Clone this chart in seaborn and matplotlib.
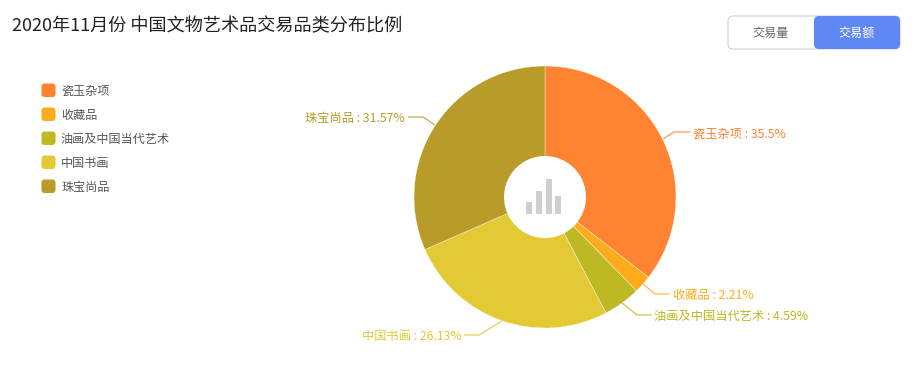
import matplotlib
matplotlib.use("Agg")
import matplotlib.pyplot as plt
from matplotlib.patches import Circle, FancyBboxPatch, Rectangle
import seaborn as sns

sns.set_theme(style="white")
plt.rcParams['font.family'] = ['Noto Sans CJK SC', 'DejaVu Sans']

# data
categories = ['瓷玉杂项', '收藏品', '油画及中国当代艺术', '中国书画', '珠宝尚品']
shares = [35.5, 2.21, 4.59, 26.13, 31.57]
share_labels = ['35.5%', '2.21%', '4.59%', '26.13%', '31.57%']
colors = ['#FF8330', '#FFAC1C', '#BDB823', '#E3C934', '#B99B2A']
toggle_labels = ['交易量', '交易额']
title = '2020年11月份 中国文物艺术品交易品类分布比例'

W, H = 921, 365
CX, CY, R, R_IN = 545, 197, 131, 41

fig = plt.figure(figsize=(W / 100, H / 100), dpi=100, facecolor='white')

# ------- pie -------
ax = fig.add_axes([(CX - R) / W, 1 - (CY + R) / H, 2 * R / W, 2 * R / H])
ax.pie(shares, colors=colors, startangle=90, counterclock=False, radius=1,
       wedgeprops=dict(edgecolor='white', linewidth=0.25))
ax.set_xlim(-1, 1)
ax.set_ylim(-1, 1)
ax.add_patch(Circle((0, 0), R_IN / R, facecolor='white', edgecolor='none', zorder=5))

# ------- overlay in pixel coords -------
ov = fig.add_axes([0, 0, 1, 1], facecolor='none')
ov.set_xlim(0, W)
ov.set_ylim(H, 0)
ov.axis('off')

ov.text(12, 26.5, title, fontsize=13.06, color='#222222', va='center', ha='left')

# legend
for i, (name, col) in enumerate(zip(categories, colors)):
    y = 90 + i * 24
    ov.add_patch(FancyBboxPatch((41.5, y - 6.5), 14, 13.5, boxstyle='round,pad=0,rounding_size=3',
                                facecolor=col, edgecolor='none'))
    ov.text(61, y + 1, name, fontsize=8.7, color='#555555', va='center', ha='left')

# toggle button
ov.add_patch(FancyBboxPatch((728, 16), 172, 33, boxstyle='round,pad=0,rounding_size=5',
                            facecolor='white', edgecolor='#D2D2D2', linewidth=0.8))
ov.add_patch(FancyBboxPatch((814, 16), 86, 33, boxstyle='round,pad=0,rounding_size=5',
                            facecolor='#5F88F3', edgecolor='none'))
ov.text(771, 33, toggle_labels[0], fontsize=8.7, color='#666666', ha='center', va='center')
ov.text(857, 33, toggle_labels[1], fontsize=8.7, color='white', ha='center', va='center')

# centre icon
for x0, top in [(526, 202), (536, 191), (545.7, 179), (555, 196)]:
    ov.add_patch(Rectangle((x0, top), 6, 214 - top, facecolor='#CFCFCF', edgecolor='none', zorder=6))

# slice labels with leader lines
leaders = [
    ([663, 674, 690], [139, 132, 132], 693, 134.5, 'left'),
    ([643, 655, 669], [284, 294, 294], 673, 295.5, 'left'),
    ([622, 637, 652], [303, 315, 315], 654, 316.5, 'left'),
    ([502, 479, 464], [321, 335, 335], 462, 336.5, 'right'),
    ([435, 423, 408], [125, 117, 117], 405, 118.5, 'right'),
]
for (xs, ys, tx, ty, ha), name, lab, col in zip(leaders, categories, share_labels, colors):
    ov.plot(xs, ys, color=col, lw=1, alpha=0.75, solid_capstyle='butt')
    ov.text(tx, ty, f'{name} : {lab}', fontsize=8.8, color=col, ha=ha, va='center')

plt.savefig('out.png', dpi=100, facecolor='white')
